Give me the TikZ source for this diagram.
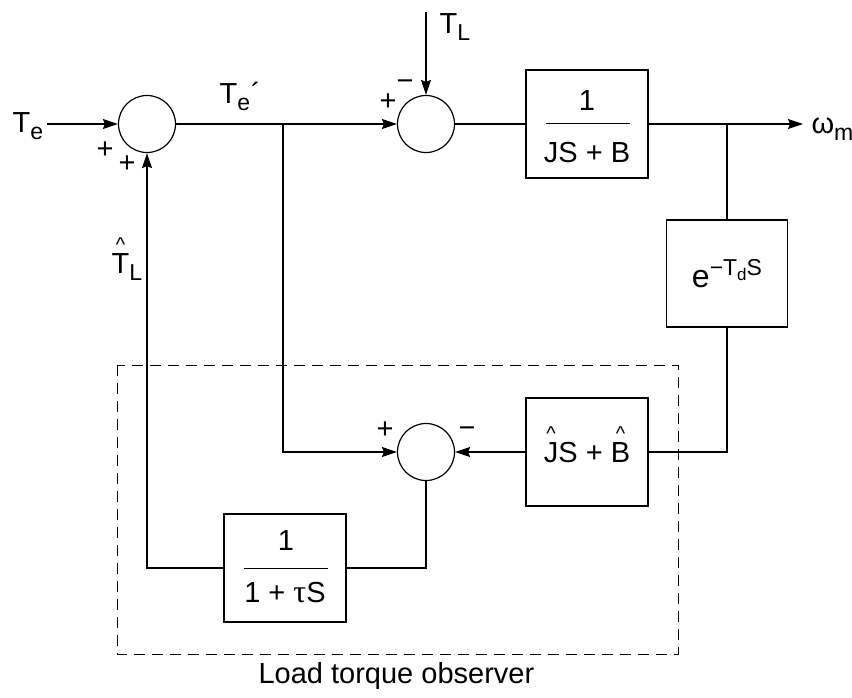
\documentclass[tikz,border=0pt]{standalone}
\usepackage{fontspec}
\setmainfont{Liberation Sans}
\newfontfamily\serifgr{Liberation Serif}
\usetikzlibrary{arrows.meta}
\newcommand\lsub[1]{\raisebox{-7pt}{\fontsize{23}{23}\selectfont #1}}
\newcommand\hatx[1]{\ooalign{#1\cr\hfil\raisebox{22pt}{\fontsize{20}{20}\selectfont\char"5E}\hfil\cr}}
\tikzset{
  every node/.style={font=\fontsize{29}{33}\selectfont, inner sep=0pt},
  sumj/.style={circle, draw, minimum size=57pt},
  blk/.style={draw, rectangle, minimum width=122pt, minimum height=108pt},
  sig/.style={-{Stealth[length=15pt,width=10pt,inset=2pt]}},
  lbl/.style={anchor=base west},
  ctr/.style={anchor=base},
  obs/.style={dashed, dash pattern=on 11pt off 7pt, line width=1pt}
}
\begin{document}
\begin{tikzpicture}[x=1pt,y=-1pt,line width=1.2pt]
\useasboundingbox (0,0) rectangle (852,697);
% junctions and blocks
\node[sumj] (s1) at (147,124) {};
\node[sumj] (s2) at (426,124) {};
\node[sumj] (s3) at (426,452) {};
\node[blk] (G) at (587,124) {};
\node[blk, minimum width=121pt, minimum height=107pt] (D) at (727,273.5) {};
\node[blk] (H) at (587,452) {};
\node[blk] (F) at (285,568) {};
% observer frame
\draw[obs] (117,365) rectangle (678,654);
% block contents
\node[ctr] (Gn) at (587,110) {1};
\node[ctr] (Gd) at (587,162) {JS + B};
\draw[line width=1pt] (546,123) -- (630,123);
\node[ctr] (Fn) at (286,550) {1};
\node[ctr] (Fd) at (285,602) {1 + {\serifgr\fontsize{32}{34}\selectfont τ}S};
\draw[line width=1pt] (244,568) -- (328,568);
\node[ctr] (Ht) at (587,462) {\hatx{J}S + \hatx{B}};
\node[ctr] (Dt) at (727,287) {\fontsize{32}{34}\selectfont e\raisebox{12pt}{\fontsize{23}{23}\selectfont −T\raisebox{-5pt}{\fontsize{17}{17}\selectfont d}S}};
% coordinates
\coordinate (teIn) at (47,124);
\coordinate (tlIn) at (426,12);
\coordinate (b1) at (283,124);
\coordinate (b1d) at (283,452);
\coordinate (b2) at (727,124);
\coordinate (out) at (803,124);
\coordinate (dr) at (727,452);
\coordinate (s3d) at (426,568);
\coordinate (fl) at (147,568);
% connectors
\draw[sig] (teIn) -- (s1.west);
\draw[sig] (s1.east) -- (s2.west);
\draw[sig] (tlIn) -- (s2.north);
\draw (s2.east) -- (G.west);
\draw[sig] (G.east) -- (out);
\draw (b2) -- (D.north);
\draw (D.south) -- (dr) -- (H.east);
\draw[sig] (H.west) -- (s3.east);
\draw[sig] (b1) -- (b1d) -- (s3.west);
\draw (s3.south) -- (s3d) -- (F.east);
\draw[sig] (F.west) -- (fl) -- (s1.south);
% labels
\node[lbl] (te) at (12,132) {T\lsub{e}};
\node[lbl] (tep) at (219,103) {T\lsub{e}\kern1pt´};
\node[lbl] (tl) at (439,33) {T\lsub{L}};
\node[lbl] (wm) at (811,133) {ω\lsub{m}};
\node[lbl] (tlh) at (111,273) {\hatx{T}\lsub{L}};
\node[ctr] (p1) at (105,158) {+};
\node[ctr] (p2) at (127,172) {+};
\node[ctr] (p3) at (388,110) {+};
\node[ctr] (m1) at (405,90) {−};
\node[ctr] (p4) at (385,438) {+};
\node[ctr] (m2) at (467,437) {−};
\node[lbl] (cap) at (258,683) {Load torque observer};
\end{tikzpicture}
\end{document}
